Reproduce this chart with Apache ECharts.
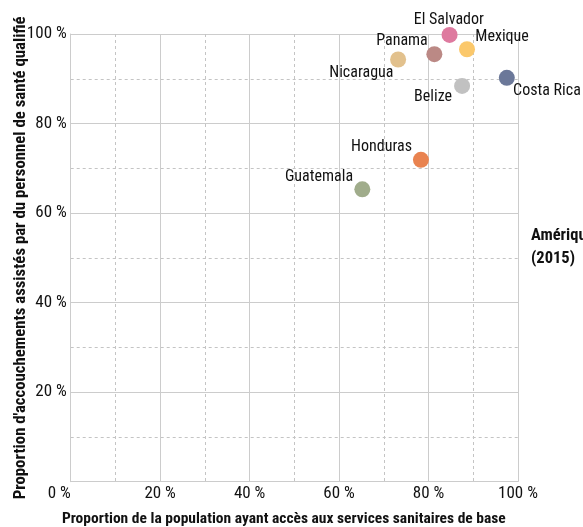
<!DOCTYPE html>
<html>
<head>
<meta charset="utf-8">
<script src="https://cdn.jsdelivr.net/npm/echarts@6/dist/echarts.min.js"></script>
<style>html,body{margin:0;padding:0;background:#fff}#c{width:583px;height:527px}</style>
</head>
<body>
<div id="c"></div>
<script>
// ---- data ----
const countries = ['El Salvador','Mexique','Panama','Nicaragua','Costa Rica','Belize','Honduras','Guatemala'];
const sanitation = [84.7, 88.6, 81.3, 73.2, 97.5, 87.5, 78.3, 65.2];   // x: % population with basic sanitation
const skilledBirths = [99.8, 96.6, 95.5, 94.3, 90.2, 88.4, 71.9, 65.3]; // y: % births attended by skilled staff
const xTicks = [0, 20, 40, 60, 80, 100];
const yTicks = [0, 20, 40, 60, 80, 100];
const titleLines = ['Amérique centrale', '(2015)'];
const xTitle = 'Proportion de la population ayant accès aux services sanitaires de base';
const yTitle = "Proportion d'accouchements assistés par du personnel de santé qualifié";

// ---- styles ----
const colors = ['#de7a9f', '#fbc86b', '#bb8985', '#e2c18d', '#6b7899', '#c1c1c1', '#e98350', '#a0ac8b'];
const labelPlace = {
  'El Salvador': {dx: -0.7, dy: -15, align: 'center'},
  'Mexique': {dx: 8.3, dy: -12.6, align: 'left'},
  'Panama': {dx: -6.6, dy: -13.3, align: 'right'},
  'Nicaragua': {dx: -4.7, dy: 13, align: 'right'},
  'Costa Rica': {dx: 6.3, dy: 13, align: 'left'},
  'Belize': {dx: -10, dy: 10.7, align: 'right'},
  'Honduras': {dx: -9, dy: -12.7, align: 'right'},
  'Guatemala': {dx: -9.3, dy: -12.6, align: 'right'}
};
const FONT = "'Roboto Condensed', 'Open Sans Condensed', 'DejaVu Sans Condensed', sans-serif";
const SYM = 16;
const solid = '#cccccc', dashed = '#c4c4c4';
const TEXT = '#111111';

const data = countries.map((c, i) => {
  const p = labelPlace[c];
  return {
    name: c,
    value: [sanitation[i], skilledBirths[i]],
    itemStyle: {color: colors[i], opacity: 1},
    label: {position: [SYM / 2 + p.dx, SYM / 2 + p.dy], align: p.align, verticalAlign: 'middle'}
  };
});

const axisCommon = (ticks) => ({
  type: 'value',
  min: ticks[0],
  max: ticks[ticks.length - 1],
  interval: ticks[1] - ticks[0],
  axisLine: {show: true, lineStyle: {color: solid, width: 1}},
  axisTick: {show: false},
  splitLine: {show: true, lineStyle: {color: solid, width: 1}},
  minorTick: {show: false, splitNumber: 2},
  minorSplitLine: {show: true, lineStyle: {color: dashed, width: 1, type: [3, 3]}},
  axisLabel: {formatter: v => v + '\u00a0%', color: TEXT, fontFamily: FONT, fontSize: 17}
});

const chart = echarts.init(document.getElementById('c'), null, {renderer: 'canvas'});
const xa = axisCommon(xTicks);
xa.axisLabel.margin = 4;
xa.axisLabel.alignMinLabel = 'right';
xa.name = xTitle;
xa.nameLocation = 'middle';
xa.nameGap = 29;
xa.nameMoveOverlap = false;
xa.nameTextStyle = {fontFamily: FONT, fontSize: 15.5, fontWeight: 'bold', color: TEXT, padding: [0, 21, 0, 0]};
const ya = axisCommon(yTicks);
ya.axisLabel.margin = 4;
ya.axisLabel.showMinLabel = false;
ya.name = yTitle;
ya.nameLocation = 'middle';
ya.nameGap = 41;
ya.nameMoveOverlap = false;
ya.nameTextStyle = {fontFamily: FONT, fontSize: 16.8, fontWeight: 'bold', color: TEXT};

chart.setOption({
  animation: false,
  title: {
    text: titleLines.join('\n'),
    left: 531,
    top: 224,
    padding: 0,
    textStyle: {fontFamily: FONT, fontSize: 16.5, fontWeight: 'bold', color: TEXT, lineHeight: 23}
  },
  grid: {left: 70.7, top: 34, right: 65, bottom: 45.3, containLabel: false, outerBoundsMode: 'none'},
  xAxis: xa,
  yAxis: ya,
  series: [{
    type: 'scatter',
    symbol: 'circle',
    symbolSize: SYM,
    itemStyle: {opacity: 1},
    data: data,
    label: {
      show: true,
      formatter: p => p.name,
      fontFamily: FONT,
      fontSize: 16,
      color: TEXT,
      opacity: 1
    },
    emphasis: {disabled: true}
  }]
});
</script>
</body>
</html>
